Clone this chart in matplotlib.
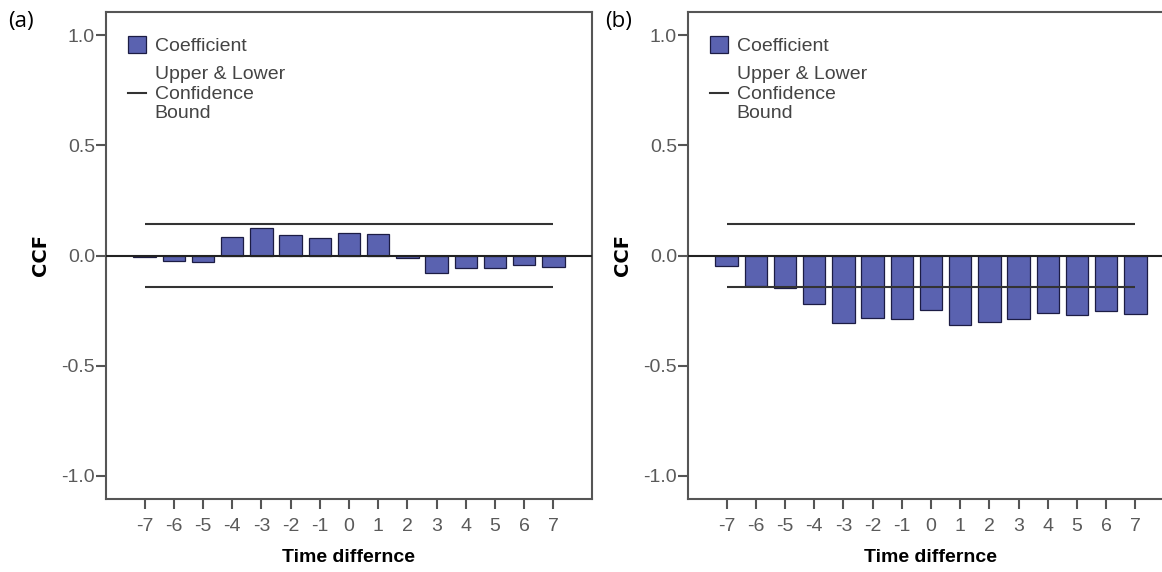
import matplotlib.pyplot as plt
from matplotlib.patches import Patch
from matplotlib.lines import Line2D

plt.rcParams['font.family'] = ['Liberation Sans', 'DejaVu Sans']

# lags and cross-correlation coefficients
lags = [-7, -6, -5, -4, -3, -2, -1, 0, 1, 2, 3, 4, 5, 6, 7]
ccf_a = [-0.005, -0.024, -0.030, 0.085, 0.126, 0.091, 0.078, 0.100, 0.097,
         -0.011, -0.079, -0.059, -0.059, -0.041, -0.052]
ccf_b = [-0.046, -0.140, -0.148, -0.221, -0.306, -0.285, -0.288, -0.248, -0.317,
         -0.300, -0.288, -0.262, -0.272, -0.250, -0.266]
ci_a = 0.145
ci_b = 0.145
yticks = [-1.0, -0.5, 0.0, 0.5, 1.0]
panel_tags = ['(a)', '(b)']

bar_color = '#5a62b0'
edge_color = '#1c1c44'
spine_color = '#555555'

fig = plt.figure(figsize=(11.62, 5.72), dpi=100)
ax_a = fig.add_axes([106 / 1162, 1 - 499 / 572, 486 / 1162, 487 / 572])
ax_b = fig.add_axes([688 / 1162, 1 - 499 / 572, 486 / 1162, 487 / 572])

for ax, vals, ci, tag, tag_x in [(ax_a, ccf_a, ci_a, panel_tags[0], 8),
                                 (ax_b, ccf_b, ci_b, panel_tags[1], 605)]:
    ax.bar(lags, vals, width=0.77, color=bar_color, edgecolor=edge_color,
           linewidth=0.9, zorder=2)
    ax.axhline(0, color='#222222', lw=1.5, zorder=3)
    ax.hlines([ci, -ci], lags[0], lags[-1], color='#333333', lw=1.5, zorder=4)

    ax.set_xlim(-8.32, 8.32)
    ax.set_ylim(-1.106, 1.106)
    ax.set_xticks(lags)
    ax.set_xticklabels([str(v) for v in lags])
    ax.set_yticks(yticks)
    ax.set_yticklabels(['%.1f' % v for v in yticks])
    ax.tick_params(axis='both', colors=spine_color, labelcolor='#5a5a5a',
                   labelsize=14, width=1.5)
    ax.tick_params(axis='x', length=7, pad=7)
    ax.tick_params(axis='y', length=7, pad=1)
    for s in ax.spines.values():
        s.set_color(spine_color)
        s.set_linewidth(1.5)

    ax.set_ylabel('CCF', fontsize=14, fontweight='bold', family='DejaVu Sans')
    ax.yaxis.set_label_coords(-0.115, 0.5)
    ax.set_xlabel('Time differnce', fontsize=14, fontweight='bold')
    ax.xaxis.set_label_coords(0.5, -0.12)
    ax.xaxis.label.set_va('center')

    handles = [Patch(facecolor=bar_color, edgecolor=edge_color, linewidth=0.9),
               Line2D([0], [0], color='#333333', lw=1.5)]
    leg = ax.legend(handles, ['Coefficient', 'Upper & Lower\nConfidence\nBound'],
                    loc='upper left', bbox_to_anchor=(0.03, 0.967), frameon=False,
                    fontsize=14, handlelength=0.9, handleheight=1.0,
                    handletextpad=0.45, labelspacing=0.55, borderaxespad=0)
    for t in leg.get_texts():
        t.set_color('#444444')
        t.set_linespacing(1.2)

    fig.text(tag_x / 1162, 1 - 21 / 572, tag, fontsize=16, family='Open Sans',
             va='center', ha='left')

fig.savefig('out.png', dpi=100)
